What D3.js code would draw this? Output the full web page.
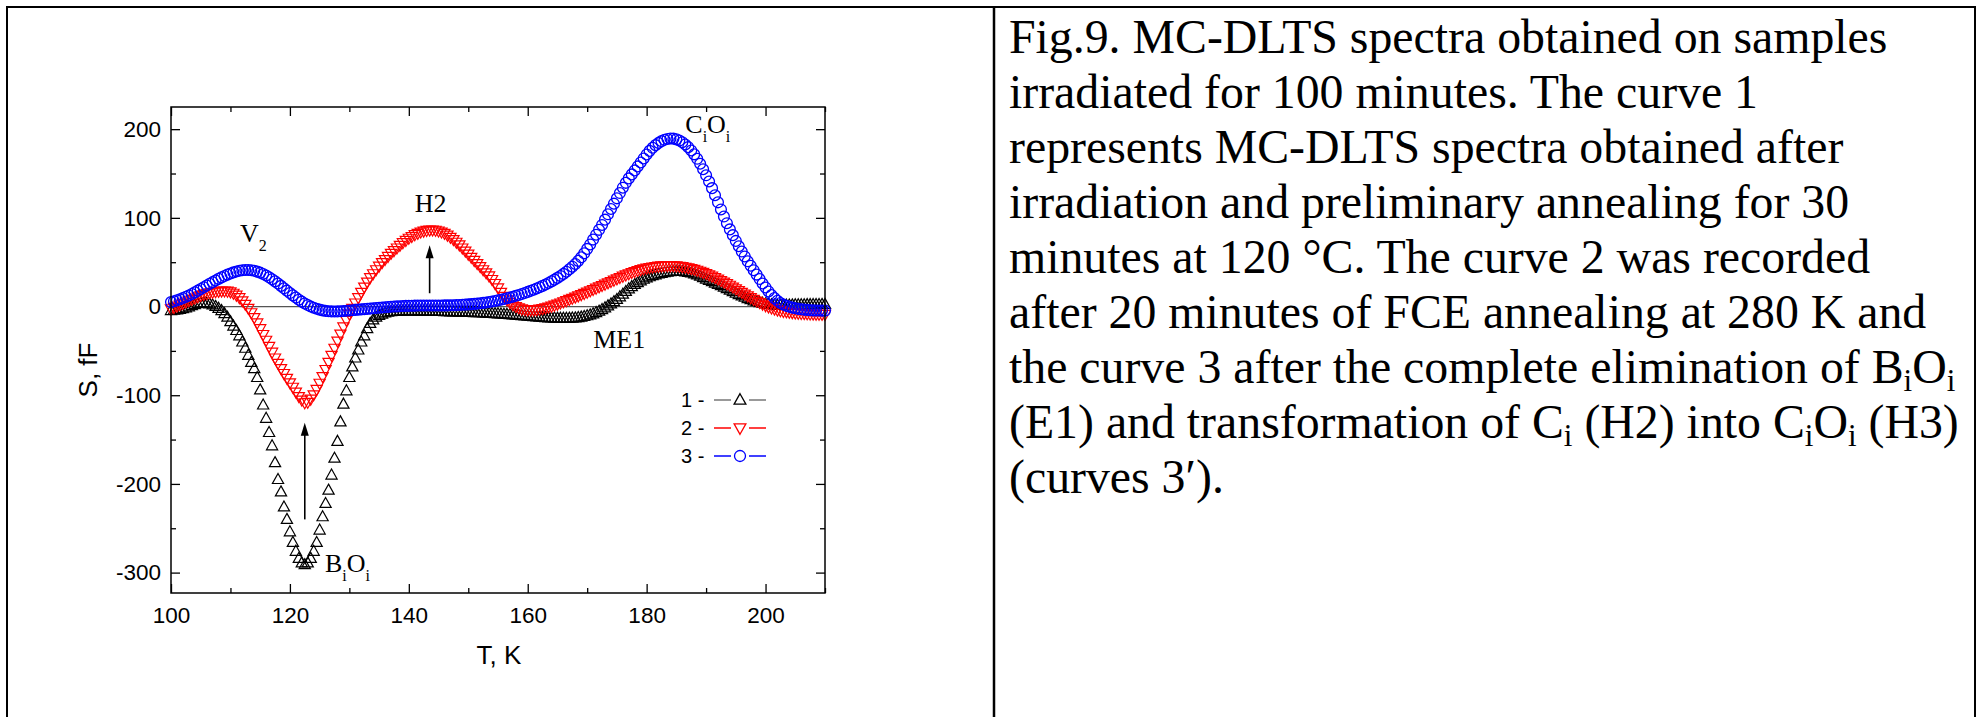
<!DOCTYPE html>
<html><head><meta charset="utf-8">
<script src="https://cdn.jsdelivr.net/npm/d3@7"></script>
<style>body{margin:0;background:#fff}</style>
</head><body>
<svg id="chart" width="1980" height="717"></svg>
<script>
// ---------- DATA ----------
const temperatureK = [
100,100.5,101,101.5,102,102.5,103,103.5,104,104.5,105,105.5,106,106.5,107,107.5,108,108.5,109,109.5,
110,110.5,111,111.5,112,112.5,113,113.5,114,114.5,115,115.5,116,116.5,117,117.5,118,118.5,119,119.5,
120,120.5,121,121.5,122,122.5,123,123.5,124,124.5,125,125.5,126,126.5,127,127.5,128,128.5,129,129.5,
130,130.5,131,131.5,132,132.5,133,133.5,134,134.5,135,135.5,136,136.5,137,137.5,138,138.5,139,139.5,
140,140.5,141,141.5,142,142.5,143,143.5,144,144.5,145,145.5,146,146.5,147,147.5,148,148.5,149,149.5,
150,150.5,151,151.5,152,152.5,153,153.5,154,154.5,155,155.5,156,156.5,157,157.5,158,158.5,159,159.5,
160,160.5,161,161.5,162,162.5,163,163.5,164,164.5,165,165.5,166,166.5,167,167.5,168,168.5,169,169.5,
170,170.5,171,171.5,172,172.5,173,173.5,174,174.5,175,175.5,176,176.5,177,177.5,178,178.5,179,179.5,
180,180.5,181,181.5,182,182.5,183,183.5,184,184.5,185,185.5,186,186.5,187,187.5,188,188.5,189,189.5,
190,190.5,191,191.5,192,192.5,193,193.5,194,194.5,195,195.5,196,196.5,197,197.5,198,198.5,199,199.5,
200,200.5,201,201.5,202,202.5,203,203.5,204,204.5,205,205.5,206,206.5,207,207.5,208,208.5,209,209.5,210];

const curve1 = [
-4.5,-4.2,-3.8,-3.2,-2.4,-1.4,-0.3,1,2.2,3.2,3.9,4.1,3.8,3,1.8,0.2,-2,-4.5,-8,-12,
-17,-22,-27,-33,-40,-47,-55,-63,-70,-80,-94,-111,-126,-142,-157,-176,-195,-209,-226,-240,
-254,-266,-276,-284,-289,-291,-289,-284,-276,-266,-252,-237,-222,-207,-190,-171,-152,-130,-110,-95,
-80,-68,-58,-49,-40,-33,-25,-19,-15,-12,-10,-8.5,-7.2,-6.3,-5.8,-5.5,-5.3,-5.2,-5.1,-5,
-5,-5,-5.1,-5.1,-5.2,-5.2,-5.3,-5.3,-5.4,-5.5,-5.5,-5.6,-5.7,-5.8,-5.9,-6,-6.1,-6.2,-6.3,-6.4,
-6.5,-6.6,-6.8,-6.9,-7,-7.2,-7.4,-7.6,-7.8,-8,-8.2,-8.4,-8.6,-8.8,-9,-9.3,-9.6,-9.9,-10.2,-10.5,
-10.8,-11.1,-11.4,-11.7,-12,-12.3,-12.5,-12.7,-12.9,-13,-13.1,-13.2,-13.2,-13.2,-13.1,-13,-12.8,-12.4,-11.9,-11.2,
-10.4,-9.4,-8.2,-6.8,-5.2,-3.4,-1.4,0.8,3,5.5,8,11,14,17,20,22.5,25,27,29,30.8,
32.3,33.6,34.8,35.8,36.7,37.5,38.2,38.8,39.3,39.6,39.8,39.8,39.6,39.2,38.6,37.8,36.8,35.6,34.2,32.7,
31,29.6,28,26.5,25,23.5,22,20.3,18.5,16.8,15,13.5,12,10.5,9,7.7,6.5,5.5,4.5,3.7,
3,2.5,2,1.8,1.6,1.5,1.6,1.7,1.8,1.9,2,2,2.1,2.1,2.2,2.2,2.3,2.3,2.3,2.4,2.4];

const curve2 = [
-2.5,-1,0.5,2,3.5,5,6.5,8,9.5,11,12.3,13.5,14.5,15.4,16.1,16.7,17.1,17.4,17.5,17.3,
16.5,15,12.8,10,6.5,2.5,-2,-7,-12.5,-18.5,-25,-31.5,-38,-45,-51.5,-58,-64,-70,-75.5,-81,
-86,-91,-96.5,-101.5,-105.5,-108.5,-108,-104.5,-99.5,-93.5,-86.5,-79,-71,-63,-55,-47,-39,-31,-23,-15.5,
-8.5,-2,4,10,16,22,27.5,32.5,37,41.5,45.5,49.5,53,56.5,60,63,66,69,72,74.5,
77,79,81,82.5,84,85,85.8,86.2,86.3,86,85.2,84,82.5,80.5,78,75.5,72.5,69.5,66,62.5,
59,55.5,52,48.5,45,41.5,38,34.5,30.5,26,21,16,11.5,7.5,4.5,2,0,-1.5,-2.7,-3.4,
-3.8,-3.9,-3.8,-3.5,-3,-2.3,-1.5,-0.6,0.4,1.5,2.7,4,5.3,6.6,8,9.3,10.6,12,13.4,14.8,
16.2,17.7,19.2,20.7,22.2,23.7,25.2,26.7,28.2,29.7,31.2,32.7,34.2,35.6,37,38.3,39.5,40.6,41.6,42.5,
43.3,44,44.6,45.1,45.5,45.8,46,46.1,46.1,46,45.8,45.4,44.9,44.3,43.6,42.8,42,40.9,39.8,38.5,
37.2,35.7,34.2,32.6,31,29.3,27.6,25.8,24,22,20,18,16,14,12,10,8,6.2,4.4,2.7,
1,-0.4,-1.7,-2.9,-4,-4.8,-5.5,-6,-6.5,-6.9,-7.2,-7.5,-7.8,-8,-8.2,-8.4,-8.5,-8.6,-8.7,-8.8,-8.9];

const curve3 = [
5,6,7,8.3,9.6,11,12.5,14.2,16,17.9,19.8,21.8,23.7,25.6,27.5,29.4,31.2,32.9,34.5,36,
37.3,38.5,39.5,40.3,40.9,41.2,41.2,40.9,40.3,39.4,38.2,36.7,35,33,30.8,28.4,25.9,23.3,20.6,17.9,
15.2,12.6,10.1,7.7,5.5,3.5,1.7,0.1,-1.3,-2.5,-3.5,-4.3,-4.9,-5.3,-5.5,-5.6,-5.5,-5.3,-5,-4.7,
-4.4,-4.1,-3.8,-3.5,-3.2,-2.9,-2.6,-2.3,-2,-1.7,-1.4,-1.1,-0.8,-0.5,-0.2,0,0.2,0.4,0.6,0.7,
0.8,0.9,1,1.1,1.1,1.2,1.2,1.2,1.2,1.2,1.2,1.2,1.3,1.3,1.4,1.5,1.6,1.8,2,2.2,
2.4,2.7,3,3.3,3.7,4.1,4.6,5.1,5.7,6.3,7,7.7,8.5,9.3,10.2,11.1,12.1,13.1,14.2,15.3,
16.5,17.7,19,20.4,21.8,23.3,24.9,26.6,28.4,30.3,32.3,34.5,36.8,39.3,42,44.9,48,51.5,55.5,60,
65,70,75.5,81,86.5,92,98,104,110,116,122,128,134,139.5,144.5,149,153.5,158,162.5,167,
171.5,175.5,179,182,184.5,186.5,188,189,189.5,189.3,188.5,187.2,185.3,182.8,179.7,176,171.6,166.6,161,154.8,
148,141,133.5,125.5,117.5,109.5,101.5,94,87,80.5,74,68,62,56.5,51,46,41,36,31,26,
21.5,17,13,9.5,6.5,4,2.2,0.8,-0.3,-1.2,-2,-2.6,-3.1,-3.5,-3.8,-4.1,-4.3,-4.4,-4.5,-4.6,-4.6];

const seriesLabels = ["1", "2", "3"];
const seriesColors = ["#000000", "#ff0000", "#0000ff"];
const legendLineColors = ["#777777", "#ff0000", "#0000ff"];
const seriesShapes = ["up", "down", "circle"];

const xMajorTicks = [100, 120, 140, 160, 180, 200];
const xMinorTicks = [110, 130, 150, 170, 190, 210];
const yMajorTicks = [-300, -200, -100, 0, 100, 200];
const yMinorTicks = [-250, -150, -50, 50, 150];

const xTitle = "T, K";
const yTitle = "S, fF";

const annotations = [
  {T: 111.6, S: 73, parts: [["V", false], ["2", true]]},
  {T: 141.0, S: 107, parts: [["H2", false]]},
  {T: 186.5, S: 196, parts: [["C", false], ["i", true], ["O", false], ["i", true]]},
  {T: 171.0, S: -47, parts: [["ME1", false]]},
  {T: 125.9, S: -299, parts: [["B", false], ["i", true], ["O", false], ["i", true]]}
];
const arrows = [
  {T: 122.5, from: -240, to: -131},
  {T: 143.5, from: 15, to: 69}
];

const captionLines = [
  "Fig.9. MC-DLTS spectra obtained on samples",
  "irradiated for 100 minutes. The curve 1",
  "represents MC-DLTS spectra obtained after",
  "irradiation and preliminary annealing for 30",
  "minutes at 120 \u00B0C. The curve 2 was recorded",
  "after 20 minutes of FCE annealing at 280 K and",
  "the curve 3 after the complete elimination of B_iO_i",
  "(E1) and transformation of C_i (H2) into C_iO_i (H3)",
  "(curves 3\u2032)."
];

// ---------- DRAW ----------
const svg = d3.select("#chart");
const SANS = "'Liberation Sans', Arial, sans-serif";
const SERIF = "'Liberation Serif', 'Times New Roman', serif";

svg.append("line").attr("x1", 7).attr("x2", 7).attr("y1", 6).attr("y2", 717).attr("stroke", "#000").attr("stroke-width", 2);
svg.append("line").attr("x1", 6).attr("x2", 1976).attr("y1", 7).attr("y2", 7).attr("stroke", "#000").attr("stroke-width", 2);
svg.append("line").attr("x1", 994).attr("x2", 994).attr("y1", 6).attr("y2", 717).attr("stroke", "#000").attr("stroke-width", 2.5);
svg.append("line").attr("x1", 1975).attr("x2", 1975).attr("y1", 6).attr("y2", 717).attr("stroke", "#000").attr("stroke-width", 2);

const x = d3.scaleLinear().domain([100, 210]).range([171, 825]);
const y = d3.scaleLinear().domain([-323, 225]).range([593, 107]);

const plot = svg.append("g");
const fmt = d => String(d);

function styleAxis(g) {
  g.select(".domain").remove();
  g.selectAll("line").attr("stroke", "#000").attr("stroke-width", 1.3);
  g.selectAll("text").attr("font-family", SANS).attr("font-size", "22.5px").attr("fill", "#000");
}
plot.append("g").attr("transform", `translate(0,${y.range()[0]})`)
  .call(d3.axisBottom(x).tickValues(xMajorTicks).tickSizeInner(-9).tickSizeOuter(0).tickPadding(14).tickFormat(fmt)).call(styleAxis);
plot.append("g").attr("transform", `translate(0,${y.range()[0]})`)
  .call(d3.axisBottom(x).tickValues(xMinorTicks).tickSizeInner(-5).tickSizeOuter(0).tickFormat("")).call(styleAxis);
plot.append("g").attr("transform", `translate(0,${y.range()[1]})`)
  .call(d3.axisTop(x).tickValues(xMajorTicks).tickSizeInner(-9).tickSizeOuter(0).tickFormat("")).call(styleAxis);
plot.append("g").attr("transform", `translate(0,${y.range()[1]})`)
  .call(d3.axisTop(x).tickValues(xMinorTicks).tickSizeInner(-5).tickSizeOuter(0).tickFormat("")).call(styleAxis);
plot.append("g").attr("transform", `translate(${x.range()[0]},0)`)
  .call(d3.axisLeft(y).tickValues(yMajorTicks).tickSizeInner(-9).tickSizeOuter(0).tickPadding(10).tickFormat(fmt)).call(styleAxis);
plot.append("g").attr("transform", `translate(${x.range()[0]},0)`)
  .call(d3.axisLeft(y).tickValues(yMinorTicks).tickSizeInner(-5).tickSizeOuter(0).tickFormat("")).call(styleAxis);
plot.append("g").attr("transform", `translate(${x.range()[1]},0)`)
  .call(d3.axisRight(y).tickValues(yMajorTicks).tickSizeInner(-9).tickSizeOuter(0).tickFormat("")).call(styleAxis);
plot.append("g").attr("transform", `translate(${x.range()[1]},0)`)
  .call(d3.axisRight(y).tickValues(yMinorTicks).tickSizeInner(-5).tickSizeOuter(0).tickFormat("")).call(styleAxis);

plot.append("line").attr("x1", x(100)).attr("x2", x(210)).attr("y1", y(0)).attr("y2", y(0))
  .attr("stroke", "#555").attr("stroke-width", 1.2);

function shapePath(kind, s) {
  if (kind === "up") return `M0,${-6*s}L${5.6*s},${4*s}L${-5.6*s},${4*s}Z`;
  if (kind === "down") return `M0,${6*s}L${5.6*s},${-4*s}L${-5.6*s},${-4*s}Z`;
  return null;
}
const allSeries = [curve1, curve2, curve3];
allSeries.forEach((vals, k) => {
  const pts = temperatureK.map((t, i) => [t, vals[i]]);
  const g = plot.append("g");
  if (seriesShapes[k] === "circle") {
    g.selectAll("circle").data(pts).join("circle")
      .attr("cx", d => x(d[0])).attr("cy", d => y(d[1])).attr("r", 5.4)
      .attr("fill", "none").attr("stroke", seriesColors[k]).attr("stroke-width", 1.3);
  } else {
    g.selectAll("path").data(pts).join("path")
      .attr("transform", d => `translate(${x(d[0])},${y(d[1])})`)
      .attr("d", shapePath(seriesShapes[k], 1))
      .attr("fill", "none").attr("stroke", seriesColors[k]).attr("stroke-width", 1.2);
  }
});

plot.append("rect").attr("x", x.range()[0]).attr("y", y.range()[1])
  .attr("width", x.range()[1] - x.range()[0]).attr("height", y.range()[0] - y.range()[1])
  .attr("fill", "none").attr("stroke", "#000").attr("stroke-width", 1.5);

svg.append("text").attr("x", (x.range()[0] + x.range()[1]) / 2 + 1).attr("y", 664)
  .attr("text-anchor", "middle").attr("font-family", SANS).attr("font-size", "26px").text(xTitle);
svg.append("text").attr("transform", "translate(97,370) rotate(-90)")
  .attr("text-anchor", "middle").attr("font-family", SANS).attr("font-size", "26px").text(yTitle);

annotations.forEach(a => {
  const t = svg.append("text").attr("x", x(a.T)).attr("y", y(a.S))
    .attr("font-family", SERIF).attr("font-size", "26px").attr("fill", "#000");
  let down = false;
  a.parts.forEach(([s, sub]) => {
    const sp = t.append("tspan").text(s);
    if (sub && !down) { sp.attr("dy", 9).attr("font-size", "16px"); down = true; }
    else if (sub) { sp.attr("font-size", "16px"); }
    else if (!sub && down) { sp.attr("dy", -9); down = false; }
  });
});

arrows.forEach(a => {
  const xa = x(a.T), y0 = y(a.from), y1 = y(a.to);
  svg.append("line").attr("x1", xa).attr("x2", xa).attr("y1", y0).attr("y2", y1 + 10)
    .attr("stroke", "#000").attr("stroke-width", 1.6);
  svg.append("path").attr("d", `M${xa},${y1}L${xa + 4},${y1 + 13}L${xa - 4},${y1 + 13}Z`).attr("fill", "#000");
});

const legend = svg.append("g");
seriesLabels.forEach((lab, k) => {
  const cy = 400 + k * 28;
  legend.append("text").attr("x", 681).attr("y", cy + 7).attr("font-family", SANS).attr("font-size", "20px").text(lab + " -");
  legend.append("line").attr("x1", 714).attr("x2", 731).attr("y1", cy).attr("y2", cy).attr("stroke", legendLineColors[k]).attr("stroke-width", 1.5);
  legend.append("line").attr("x1", 749).attr("x2", 766).attr("y1", cy).attr("y2", cy).attr("stroke", legendLineColors[k]).attr("stroke-width", 1.5);
  if (seriesShapes[k] === "circle") {
    legend.append("circle").attr("cx", 740).attr("cy", cy).attr("r", 5.5).attr("fill", "none").attr("stroke", seriesColors[k]).attr("stroke-width", 1.3);
  } else {
    legend.append("path").attr("transform", `translate(740,${cy})`).attr("d", shapePath(seriesShapes[k], 1.05))
      .attr("fill", "none").attr("stroke", seriesColors[k]).attr("stroke-width", 1.3);
  }
});

const cap = svg.append("g");
captionLines.forEach((line, i) => {
  const t = cap.append("text")
    .attr("x", 1009).attr("y", 53 + i * 55)
    .attr("font-family", SERIF).attr("font-size", "47.8px").attr("fill", "#000");
  const pieces = line.split("_i");
  pieces.forEach((p, j) => {
    const sp = t.append("tspan").text(p);
    if (j > 0) sp.attr("dy", -8);
    if (j < pieces.length - 1) {
      t.append("tspan").attr("font-size", "31px").attr("dy", 8).text("i");
    }
  });
});
</script>
</body></html>
